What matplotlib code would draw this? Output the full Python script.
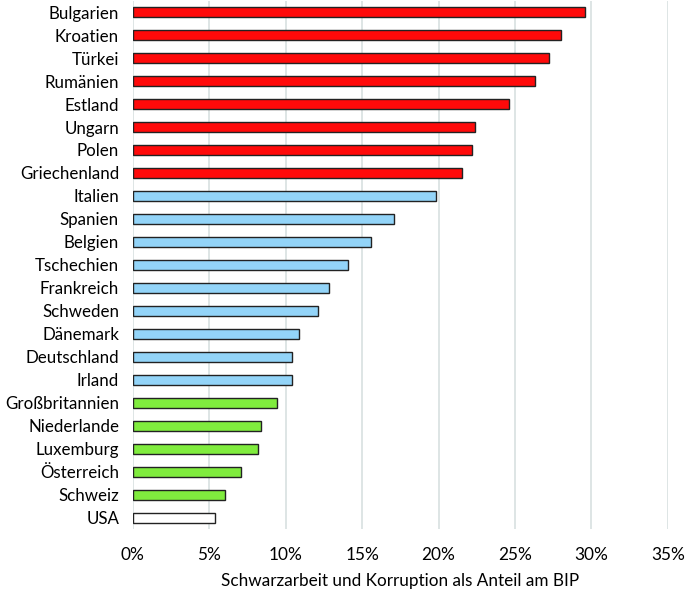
import matplotlib.pyplot as plt
from matplotlib.ticker import FuncFormatter

plt.rcParams['font.family'] = ['Lato', 'DejaVu Sans']

laender = ['Bulgarien', 'Kroatien', 'Türkei', 'Rumänien', 'Estland', 'Ungarn',
           'Polen', 'Griechenland', 'Italien', 'Spanien', 'Belgien', 'Tschechien',
           'Frankreich', 'Schweden', 'Dänemark', 'Deutschland', 'Irland',
           'Großbritannien', 'Niederlande', 'Luxemburg', 'Österreich', 'Schweiz', 'USA']
werte = [29.6, 28.0, 27.25, 26.3, 24.6, 22.4, 22.2, 21.5, 19.8, 17.1, 15.6, 14.1,
         12.8, 12.1, 10.9, 10.4, 10.4, 9.45, 8.4, 8.2, 7.07, 6.0, 5.4]
gruppe = ['hoch'] * 8 + ['mittel'] * 9 + ['niedrig'] * 5 + ['usa']

farben = {'hoch': '#ff0a0a', 'mittel': '#93d4f8', 'niedrig': '#80ec3e', 'usa': 'white'}
x_ticks = [0, 5, 10, 15, 20, 25, 30, 35]

fig = plt.figure(figsize=(6.85, 5.92), dpi=100)
ax = fig.add_axes([0.194, 0.106, 0.781, 0.893])

pos = list(range(len(laender)))
ax.barh(pos, werte, height=0.43, color=[farben[g] for g in gruppe],
        edgecolor='#222222', linewidth=1.0, zorder=3)

ax.set_ylim(len(laender) - 0.5, -0.5)
ax.set_yticks(pos)
ax.set_yticklabels(laender, fontsize=12.2)
ax.set_xlim(0, 35)
ax.set_xticks(x_ticks)
ax.xaxis.set_major_formatter(FuncFormatter(lambda v, p: '%d%%' % v))
ax.tick_params(axis='x', labelsize=12.4, length=0, pad=13)
ax.tick_params(axis='y', length=0, pad=10)
ax.grid(axis='x', color='#d8e0e0', linewidth=1.2, zorder=0)
ax.set_axisbelow(True)
for s in ax.spines.values():
    s.set_visible(False)

ax.set_xlabel('Schwarzarbeit und Korruption als Anteil am BIP', fontsize=12.3, labelpad=7)

plt.savefig('out.png', dpi=100)
